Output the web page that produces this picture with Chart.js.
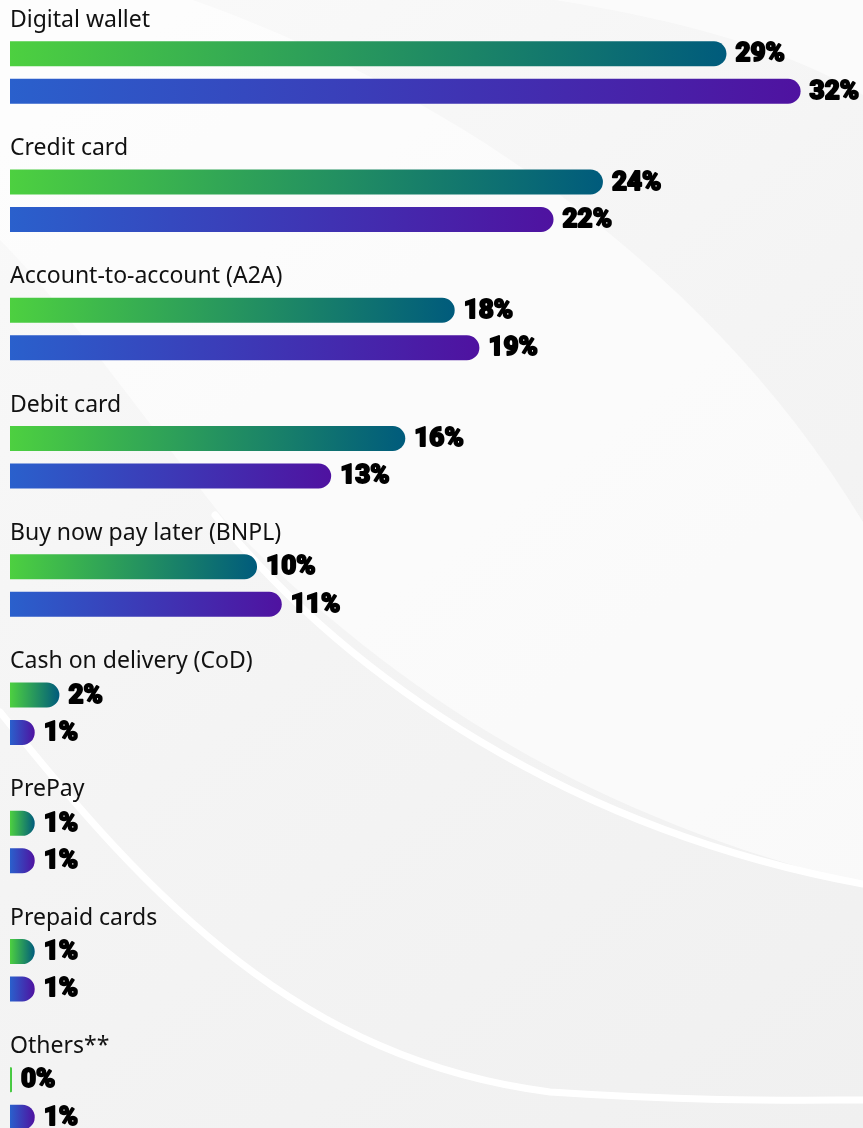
<!DOCTYPE html>
<html>
<head>
<meta charset="utf-8">
<script src="https://cdn.jsdelivr.net/npm/chart.js@4.4.1/dist/chart.umd.min.js"></script>
<style>
  html, body { margin: 0; padding: 0; background: #f3f3f3; }
  #wrap { width: 863px; height: 1128px; position: relative; }
</style>
</head>
<body>
<div id="wrap"><canvas id="c"></canvas></div>
<script>
const categories = [
  "Digital wallet",
  "Credit card",
  "Account-to-account (A2A)",
  "Debit card",
  "Buy now pay later (BNPL)",
  "Cash on delivery (CoD)",
  "PrePay",
  "Prepaid cards",
  "Others**"
];
const seriesGreen = [29, 24, 18, 16, 10, 2, 1, 1, 0];
const seriesBlue  = [32, 22, 19, 13, 11, 1, 1, 1, 1];

function gradientFill(c0, c1) {
  return (ctx) => {
    const chart = ctx.chart;
    const xs = chart.scales && chart.scales.x;
    if (!chart.chartArea || !xs || ctx.type !== 'data') return c0;
    const x0 = xs.getPixelForValue(0);
    const x1 = Math.max(xs.getPixelForValue(ctx.raw), x0 + 20);
    const g = chart.ctx.createLinearGradient(x0, 0, x1, 0);
    g.addColorStop(0, c0);
    g.addColorStop(1, c1);
    return g;
  };
}

const backgroundPlugin = {
  id: 'bg',
  beforeDraw(chart) {
    const ctx = chart.ctx;
    const W = chart.width, H = chart.height;
    ctx.save();
    const g = ctx.createLinearGradient(0, 0, W, H);
    g.addColorStop(0, '#fafafa');
    g.addColorStop(0.5, '#f4f4f4');
    g.addColorStop(1, '#f0f0f0');
    ctx.fillStyle = g;
    ctx.fillRect(0, 0, W, H);
    ctx.fillStyle = 'rgba(255,255,255,0.6)';
    ctx.beginPath();
    ctx.moveTo(0, 0);
    ctx.lineTo(193, 0);
    ctx.bezierCurveTo(420, 80, 700, 250, 863, 522);
    ctx.lineTo(863, 884);
    ctx.bezierCurveTo(600, 820, 400, 700, 225, 520);
    ctx.bezierCurveTo(130, 400, 60, 300, 0, 240);
    ctx.closePath();
    ctx.fill();
    ctx.fillStyle = 'rgba(255,255,255,0.55)';
    ctx.beginPath();
    ctx.moveTo(555, 0);
    ctx.bezierCurveTo(680, 20, 790, 50, 863, 95);
    ctx.lineTo(863, 0);
    ctx.closePath();
    ctx.fill();
    ctx.strokeStyle = '#ffffff';
    ctx.lineCap = 'round';
    ctx.lineWidth = 7;
    ctx.beginPath();
    ctx.moveTo(215, 515);
    ctx.bezierCurveTo(350, 680, 570, 830, 863, 884);
    ctx.stroke();
    ctx.beginPath();
    ctx.moveTo(0, 712);
    ctx.bezierCurveTo(150, 900, 300, 1060, 550, 1092);
    ctx.bezierCurveTo(700, 1102, 800, 1100, 863, 1100);
    ctx.stroke();
    ctx.restore();
  }
};

const labelsPlugin = {
  id: 'labels',
  afterDatasetsDraw(chart) {
    const ctx = chart.ctx;
    const ys = chart.scales.y;
    ctx.save();
    ctx.font = '23px "Noto Sans", "Open Sans", sans-serif';
    ctx.fillStyle = '#111111';
    ctx.textAlign = 'left';
    ctx.textBaseline = 'alphabetic';
    categories.forEach((c, i) => {
      ctx.fillText(c, 10, ys.getPixelForValue(i) - 45.75);
    });
    ctx.font = '900 26px Roboto, Lato, sans-serif';
    ctx.fillStyle = '#000000';
    ctx.strokeStyle = '#000000';
    ctx.lineWidth = 1.8;
    ctx.lineJoin = 'round';
    ctx.textBaseline = 'middle';
    chart.data.datasets.forEach((ds, di) => {
      const meta = chart.getDatasetMeta(di);
      meta.data.forEach((el, i) => {
        const t = ds.data[i] + '%';
        ctx.strokeText(t, el.x + 9, el.y + 1);
        ctx.fillText(t, el.x + 9, el.y + 1);
      });
    });
    ctx.restore();
  }
};

new Chart(document.getElementById('c'), {
  type: 'bar',
  data: {
    labels: categories,
    datasets: [
      {
        label: 'Series A',
        data: seriesGreen,
        backgroundColor: gradientFill('#4dd040', '#005b7c'),
        borderRadius: 13,
        borderSkipped: 'start',
        minBarLength: 2,
        clip: false,
        categoryPercentage: 0.5846,
        barPercentage: 0.6667
      },
      {
        label: 'Series B',
        data: seriesBlue,
        backgroundColor: gradientFill('#2a60cc', '#4f12a0'),
        borderRadius: 13,
        borderSkipped: 'start',
        clip: false,
        categoryPercentage: 0.5846,
        barPercentage: 0.6667
      }
    ]
  },
  options: {
    indexAxis: 'y',
    responsive: true,
    maintainAspectRatio: false,
    animation: false,
    layout: { padding: { left: 10, right: 13, top: 72.5, bottom: 29.5 } },
    plugins: { legend: { display: false }, tooltip: { enabled: false } },
    scales: {
      x: { min: 0, max: 34, display: false },
      y: { type: 'category', offset: false, display: false }
    }
  },
  plugins: [backgroundPlugin, labelsPlugin]
});
</script>
</body>
</html>
